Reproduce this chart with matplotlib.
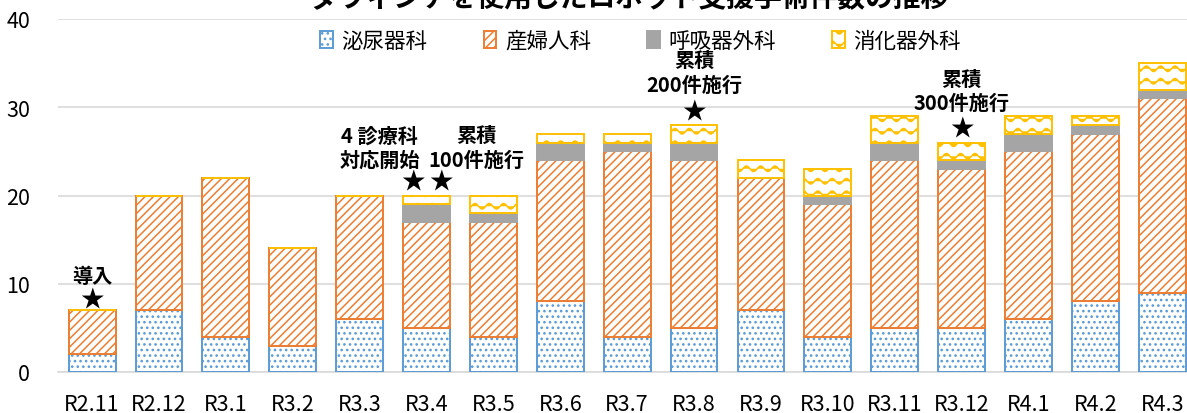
import warnings
warnings.filterwarnings("ignore")
import numpy as np
import matplotlib
matplotlib.use("Agg")
import matplotlib.pyplot as plt
import matplotlib.hatch as mhatch
from matplotlib.path import Path

# ---- data ----
months = ["R2.11", "R2.12", "R3.1", "R3.2", "R3.3", "R3.4", "R3.5", "R3.6", "R3.7",
          "R3.8", "R3.9", "R3.10", "R3.11", "R3.12", "R4.1", "R4.2", "R4.3"]
urology = [2, 7, 4, 3, 6, 5, 4, 8, 4, 5, 7, 4, 5, 5, 6, 8, 9]
gynecology = [5, 13, 18, 11, 14, 12, 13, 16, 21, 19, 15, 15, 19, 18, 19, 19, 22]
respiratory = [0, 0, 0, 0, 0, 2, 1, 2, 1, 2, 0, 1, 2, 1, 2, 1, 1]
digestive = [0, 0, 0, 0, 0, 1, 2, 1, 1, 2, 2, 3, 3, 2, 2, 1, 3]
series_names = ["泌尿器科", "産婦人科", "呼吸器外科", "消化器外科"]
title = "ダヴィンチを使用したロボット支援手術件数の推移"
y_ticks = [0, 10, 20, 30, 40]


# ---- custom wavy hatch ----
class WaveHatch(mhatch.HatchPatternBase):
    per_line = 65

    def __init__(self, hatch, density):
        self.num_lines = hatch.count('~') * 4
        self.num_vertices = self.num_lines * self.per_line

    def set_vertices_and_codes(self, vertices, codes):
        xs = np.linspace(0, 1, self.per_line)
        for i in range(self.num_lines):
            y0 = (i + 0.5) / self.num_lines
            ys = y0 + 0.028 * np.sin(2 * np.pi * 7 * xs)
            s = slice(i * self.per_line, (i + 1) * self.per_line)
            vertices[s, 0] = xs
            vertices[s, 1] = ys
            codes[s] = Path.LINETO
            codes[i * self.per_line] = Path.MOVETO


mhatch._hatch_types.append(WaveHatch)
try:
    mhatch._validate_hatch_pattern = lambda h: None
except Exception:
    pass

plt.rcParams['font.family'] = ['Noto Sans CJK JP', 'DejaVu Sans']
plt.rcParams['hatch.linewidth'] = 1.1

fig = plt.figure(figsize=(11.87, 4.14), dpi=100)
ax = fig.add_axes([58 / 1187, 41 / 414, 1 - 58 / 1187, (373 - 20) / 414])

x = np.arange(len(months))
w = 0.70
styles = [
    dict(facecolor="white", edgecolor="#5B9BD5", hatch="..."),
    dict(facecolor="white", edgecolor="#ED7D31", hatch="////"),
    dict(facecolor="#A5A5A5", edgecolor="#A5A5A5", hatch=None),
    dict(facecolor="white", edgecolor="#FFC000", hatch="~~"),
]
data = [urology, gynecology, respiratory, digestive]
bottom = np.zeros(len(months))
handles = []
for vals, st, name in zip(data, styles, series_names):
    vals = np.array(vals, dtype=float)
    bars = ax.bar(x, vals, w, bottom=bottom, label=name, linewidth=1.4, zorder=3, **st)
    handles.append(bars)
    bottom += vals

ax.set_ylim(0, 40)
ax.set_xlim(-0.51, 16.37)
ax.set_yticks(y_ticks)
ax.set_xticks(x)
ax.set_xticklabels(months)
ax.tick_params(axis='both', length=0, labelsize=15.5)
ax.tick_params(axis='x', pad=15)
ax.tick_params(axis='y', pad=20)
ax.grid(axis='y', color='#D9D9D9', linewidth=1.2, zorder=0)
for s in ['left', 'right', 'top']:
    ax.spines[s].set_visible(False)
ax.spines['bottom'].set_color('#D9D9D9')
ax.spines['bottom'].set_linewidth(1.2)

leg = ax.legend(handles=handles, labels=series_names, loc='center',
                bbox_to_anchor=(0.516, 0.938), ncol=4, frameon=False,
                fontsize=15.5, handlelength=0.6, handleheight=0.8,
                handletextpad=0.4, columnspacing=2.6)

# annotations
bold = dict(fontsize=14.5, fontweight='bold', ha='center', va='center', zorder=5)
star = dict(fontsize=17, ha='center', va='center', zorder=5)
ax.text(0, 10.9, "導入", **bold)
ax.text(0, 8.3, "★", **star)
ax.text(4.30, 25.5, "4 診療科\n対応開始", linespacing=1.2, **bold)
ax.text(5.74, 25.5, "累積\n100件施行", linespacing=1.2, **bold)
ax.text(4.80, 21.6, "★", **star)
ax.text(5.22, 21.6, "★", **star)
ax.text(9, 34.0, "累積\n200件施行", linespacing=1.2, **bold)
ax.text(9, 29.6, "★", **star)
ax.text(13, 31.9, "累積\n300件施行", linespacing=1.2, **bold)
ax.text(13, 27.6, "★", **star)

fig.text(0.53, 1 - 7 / 414, title, fontsize=20, fontweight='bold',
         ha='center', va='baseline')

fig.savefig("out.png", dpi=100)
